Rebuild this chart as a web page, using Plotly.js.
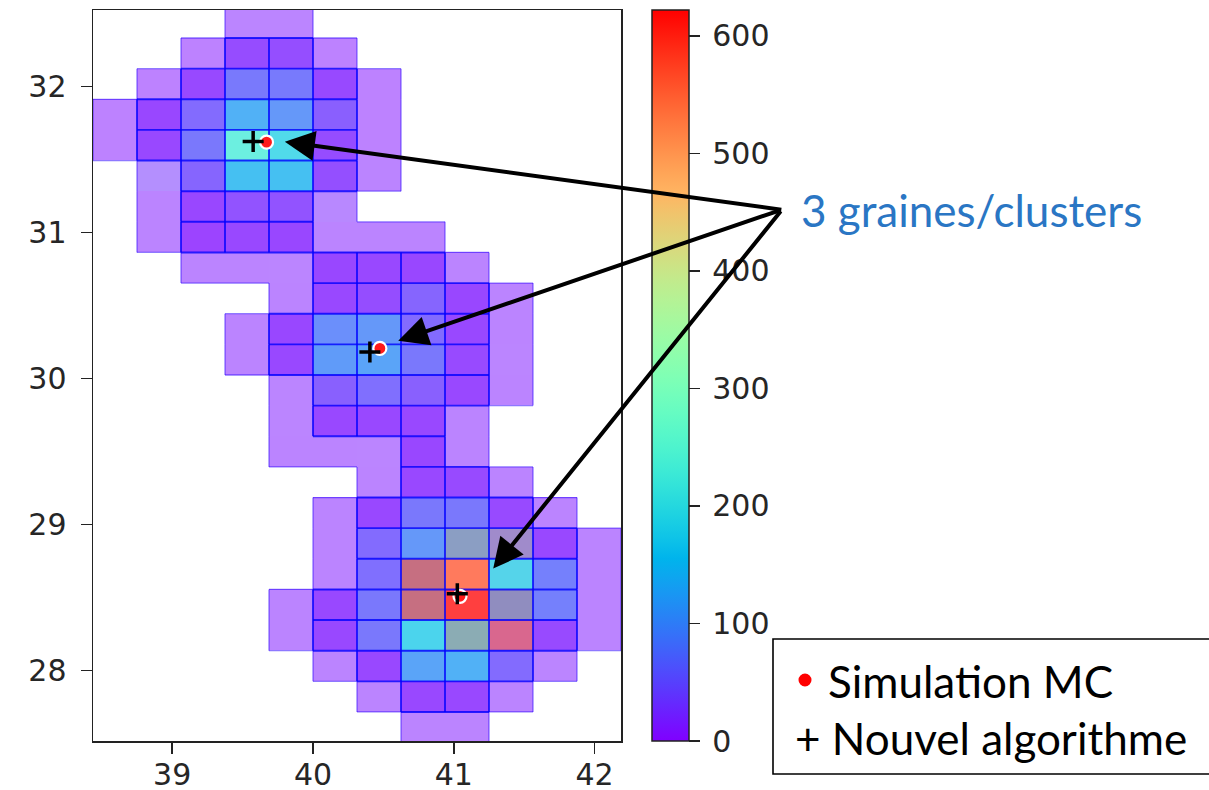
<!DOCTYPE html>
<html>
<head>
<meta charset="utf-8">
<script src="https://cdn.plot.ly/plotly-3.0.1.min.js"></script>
<style>
  html, body { margin: 0; padding: 0; background: #ffffff; }
  #chart { width: 1209px; height: 790px; }
</style>
</head>
<body>
<div id="chart"></div>
<script>
// Grid cell centres (longitude / latitude)
const lonCenters = [38.59375, 38.90625, 39.21875, 39.53125, 39.84375, 40.15625,
                    40.46875, 40.78125, 41.09375, 41.40625, 41.71875, 42.03125];
const latCenters = [32.439, 32.229, 32.019, 31.809, 31.599, 31.389, 31.179, 30.969,
                    30.759, 30.549, 30.339, 30.129, 29.919, 29.709, 29.499, 29.289,
                    29.079, 28.869, 28.659, 28.449, 28.239, 28.029, 27.819, 27.609];

const n = null;
// Counts per cell, first run (lower layer)
const countsRun1 = [
  [n, n, n, 10, 10, n, n, n, n, n, n, n],
  [n, n, 5, 12, 12, 5, n, n, n, n, n, n],
  [n, 5, 10, 60, 62, 10, 5, n, n, n, n, n],
  [5, 8, 45, 125, 95, 30, 5, n, n, n, n, n],
  [5, 10, 60, 230, 185, 12, 5, n, n, n, n, n],
  [n, 25, 40, 145, 145, 15, 8, n, n, n, n, n],
  [n, 8, 8, 20, 20, 15, n, n, n, n, n, n],
  [n, 8, 5, 10, 8, 8, 8, 8, n, n, n, n],
  [n, n, 8, 8, 10, 8, 10, 8, 8, n, n, n],
  [n, n, n, n, 8, 10, 15, 40, 8, 8, n, n],
  [n, n, n, 8, 8, 85, 95, 45, 10, 8, n, n],
  [n, n, n, 8, 10, 100, 110, 60, 12, 10, n, n],
  [n, n, n, n, 10, 35, 50, 35, 10, 8, n, n],
  [n, n, n, n, 10, 10, 10, 10, 8, n, n, n],
  [n, n, n, n, 8, 8, 10, 8, 8, n, n, n],
  [n, n, n, n, n, n, 8, 10, 12, 8, n, n],
  [n, n, n, n, n, 8, 10, 60, 60, 12, 8, n],
  [n, n, n, n, n, 8, 45, 95, 560, 530, 10, 8],
  [n, n, n, n, n, 8, 50, 120, 560, 250, 68, 8],
  [n, n, n, n, 8, 10, 60, 120, 622, 590, 68, 8],
  [n, n, n, n, 8, 10, 60, 175, 603, 30, 12, 8],
  [n, n, n, n, n, 8, 10, 110, 125, 45, 10, n],
  [n, n, n, n, n, n, 8, 10, 10, 8, n, n],
  [n, n, n, n, n, n, n, 8, 8, n, n, n]
];
// Counts per cell, second run (upper layer, outlined)
const countsRun2 = [
  [n, n, n, n, n, n, n, n, n, n, n, n],
  [n, n, n, 15, 18, n, n, n, n, n, n, n],
  [n, n, 12, 62, 62, 12, n, n, n, n, n, n],
  [n, 8, 45, 125, 95, 35, n, n, n, n, n, n],
  [n, 10, 60, 230, 185, 15, n, n, n, n, n, n],
  [n, n, 40, 145, 145, 18, n, n, n, n, n, n],
  [n, n, 8, 20, 20, n, n, n, n, n, n, n],
  [n, n, 5, 10, 8, n, n, n, n, n, n, n],
  [n, n, n, n, n, 8, 10, 8, n, n, n, n],
  [n, n, n, n, n, 10, 15, 40, 8, n, n, n],
  [n, n, n, n, 8, 85, 95, 45, 10, n, n, n],
  [n, n, n, n, 10, 100, 110, 60, 12, n, n, n],
  [n, n, n, n, n, 35, 50, 35, 10, n, n, n],
  [n, n, n, n, n, 10, 10, 10, n, n, n, n],
  [n, n, n, n, n, n, n, 8, n, n, n, n],
  [n, n, n, n, n, n, n, 10, 12, n, n, n],
  [n, n, n, n, n, n, 10, 60, 60, 12, n, n],
  [n, n, n, n, n, n, 45, 95, 124, 75, 10, n],
  [n, n, n, n, n, n, 50, 605, 560, 150, 68, n],
  [n, n, n, n, n, 10, 60, 605, 622, 112, 68, n],
  [n, n, n, n, n, 10, 60, 175, 187, 575, 12, n],
  [n, n, n, n, n, n, 10, 110, 125, 45, n, n],
  [n, n, n, n, n, n, n, 10, 10, n, n, n],
  [n, n, n, n, n, n, n, n, n, n, n, n]
];

// Seed positions
const seedLonMC = [39.67, 40.475, 41.044];
const seedLatMC = [31.62, 30.206, 28.507];
const seedLonAlgo = [39.575, 40.404, 41.025];
const seedLatAlgo = [31.625, 30.182, 28.525];

const xTicks = [39, 40, 41, 42];
const yTicks = [28, 29, 30, 31, 32];
const colorTicks = [0, 100, 200, 300, 400, 500, 600];
const countMax = 622;

// "rainbow" colour map: r = |2x - 0.5|, g = sin(pi x), b = cos(pi x / 2)
function rainbowScale(steps) {
  const out = [];
  const clip = v => Math.max(0, Math.min(1, v));
  for (let i = 0; i <= steps; i++) {
    const t = i / steps;
    const r = Math.round(255 * clip(Math.abs(2 * t - 0.5)));
    const g = Math.round(255 * clip(Math.sin(Math.PI * t)));
    const b = Math.round(255 * clip(Math.cos(Math.PI * t / 2)));
    out.push([t, `rgb(${r},${g},${b})`]);
  }
  return out;
}

// Cell outline segments; with boundaryOnly, only edges facing an empty cell
function cellEdges(z, boundaryOnly) {
  const xs = [], ys = [], seen = new Set();
  const nR = latCenters.length, nC = lonCenters.length;
  const hx = (lonCenters[1] - lonCenters[0]) / 2;
  const hy = Math.abs(latCenters[0] - latCenters[1]) / 2;
  const has = (r, c) => r >= 0 && r < nR && c >= 0 && c < nC && z[r][c] !== null;
  const add = (key, xa, ya, xb, yb) => {
    if (seen.has(key)) return;
    seen.add(key);
    xs.push(xa, xb, null);
    ys.push(ya, yb, null);
  };
  for (let r = 0; r < nR; r++) {
    for (let c = 0; c < nC; c++) {
      if (!has(r, c)) continue;
      const x0 = lonCenters[c] - hx, x1 = lonCenters[c] + hx;
      const yT = latCenters[r] + hy, yB = latCenters[r] - hy;
      if (!boundaryOnly || !has(r - 1, c)) add(`h${r}_${c}`, x0, yT, x1, yT);
      if (!boundaryOnly || !has(r + 1, c)) add(`h${r + 1}_${c}`, x0, yB, x1, yB);
      if (!boundaryOnly || !has(r, c - 1)) add(`v${r}_${c}`, x0, yB, x0, yT);
      if (!boundaryOnly || !has(r, c + 1)) add(`v${r}_${c + 1}`, x1, yB, x1, yT);
    }
  }
  return { xs, ys };
}

const outer = cellEdges(countsRun1, true);
const inner = cellEdges(countsRun2, false);

const traces = [
  {
    type: 'heatmap', x: lonCenters, y: latCenters, z: countsRun1,
    coloraxis: 'coloraxis', opacity: 0.5, hoverinfo: 'skip', zsmooth: false
  },
  {
    type: 'heatmap', x: lonCenters, y: latCenters, z: countsRun2,
    coloraxis: 'coloraxis', opacity: 0.5, hoverinfo: 'skip', zsmooth: false
  },
  {
    type: 'scatter', mode: 'lines', x: outer.xs, y: outer.ys,
    line: { color: 'rgba(50,10,255,0.55)', width: 1.3 }, hoverinfo: 'skip'
  },
  {
    type: 'scatter', mode: 'lines', x: inner.xs, y: inner.ys,
    line: { color: 'rgba(0,0,255,0.8)', width: 1.9 }, hoverinfo: 'skip'
  },
  {
    type: 'scatter', mode: 'markers', x: seedLonMC, y: seedLatMC,
    marker: { symbol: 'circle', size: 13, color: '#ff1a1a', line: { color: '#ffffff', width: 2.2 } },
    hoverinfo: 'skip'
  },
  {
    type: 'scatter', mode: 'markers', x: seedLonAlgo, y: seedLatAlgo,
    marker: { symbol: 'cross-thin', size: 15, line: { color: '#000000', width: 3.5 } },
    hoverinfo: 'skip'
  }
];

// plot area in pixels: left 93, width 528, top 10, height 731
const L = 93, W = 528, T = 10, H = 731;
const px = v => (v - L) / W;
const py = v => (T + H - v) / H;

const arrowBase = {
  xref: 'x', yref: 'y', axref: 'pixel', ayref: 'pixel', text: ' ',
  font: { size: 1 }, borderpad: 0, showarrow: true, arrowhead: 2,
  arrowsize: 1.5, arrowwidth: 4, arrowcolor: '#000000', standoff: 0
};

const legendFont = { family: 'Lato, "Noto Sans", sans-serif', size: 44, color: '#000000' };

const layout = {
  width: 1209, height: 790,
  margin: { l: L, r: 1209 - L - W, t: T, b: 790 - T - H, pad: 0 },
  paper_bgcolor: '#ffffff', plot_bgcolor: '#ffffff',
  showlegend: false,
  font: { family: '"DejaVu Sans", sans-serif', size: 30, color: '#262626' },
  xaxis: {
    range: [38.4375, 42.1875], tickvals: xTicks, ticktext: xTicks.map(String),
    ticks: 'outside', ticklen: 11, tickwidth: 1.5, tickcolor: '#222222',
    showline: true, linecolor: '#222222', linewidth: 1.5, mirror: true,
    showgrid: false, zeroline: false, ticklabelstandoff: -5
  },
  yaxis: {
    range: [27.515, 32.526], tickvals: yTicks, ticktext: yTicks.map(String),
    ticks: 'outside', ticklen: 11, tickwidth: 1.5, tickcolor: '#222222',
    showline: true, linecolor: '#222222', linewidth: 1.5, mirror: true,
    showgrid: false, zeroline: false, ticklabelstandoff: 8
  },
  coloraxis: {
    cmin: 0, cmax: countMax, colorscale: rainbowScale(40),
    colorbar: {
      x: px(652), xanchor: 'left', xpad: 0, ypad: 0,
      y: 0.5, yanchor: 'middle', len: 1, lenmode: 'fraction',
      thickness: 37, thicknessmode: 'pixels',
      outlinewidth: 1.5, outlinecolor: '#222222',
      ticks: 'outside', ticklen: 11, tickwidth: 1.5, tickcolor: '#222222',
      tickvals: colorTicks, ticktext: colorTicks.map(v => '\u2009' + v),
      tickfont: { family: '"DejaVu Sans", sans-serif', size: 30, color: '#262626' }
    }
  },
  annotations: [
    Object.assign({}, arrowBase, { x: 39.80, y: 31.623, ax: 497, ay: 68 }),
    Object.assign({}, arrowBase, { x: 40.605, y: 30.258, ax: 383, ay: -131 }),
    Object.assign({}, arrowBase, { x: 41.280, y: 28.697, ax: 288, ay: -358 }),
    {
      xref: 'paper', yref: 'paper', x: px(799), y: py(210), xanchor: 'left', yanchor: 'middle',
      text: '3 graines/clusters', showarrow: false,
      font: { family: 'Lato, "Noto Sans", sans-serif', size: 44, color: '#2a76c4' }
    },
    {
      xref: 'paper', yref: 'paper', x: px(826), y: py(681), xanchor: 'left', yanchor: 'middle',
      text: 'Simulation MC', showarrow: false, font: legendFont
    },
    {
      xref: 'paper', yref: 'paper', x: px(793), y: py(738), xanchor: 'left', yanchor: 'middle',
      text: '+ Nouvel algorithme', showarrow: false, font: legendFont
    }
  ],
  shapes: [
    {
      type: 'rect', xref: 'paper', yref: 'paper',
      x0: px(773), x1: px(1230), y0: py(774), y1: py(639),
      line: { color: '#000000', width: 1.6 }, fillcolor: 'rgba(0,0,0,0)'
    },
    {
      type: 'circle', xref: 'paper', yref: 'paper',
      xsizemode: 'pixel', ysizemode: 'pixel', xanchor: px(805), yanchor: py(680),
      x0: -6.5, x1: 6.5, y0: -6.5, y1: 6.5,
      line: { width: 0 }, fillcolor: '#ff0000'
    }
  ]
};

Plotly.newPlot('chart', traces, layout, { displayModeBar: false, staticPlot: true });
</script>
</body>
</html>
